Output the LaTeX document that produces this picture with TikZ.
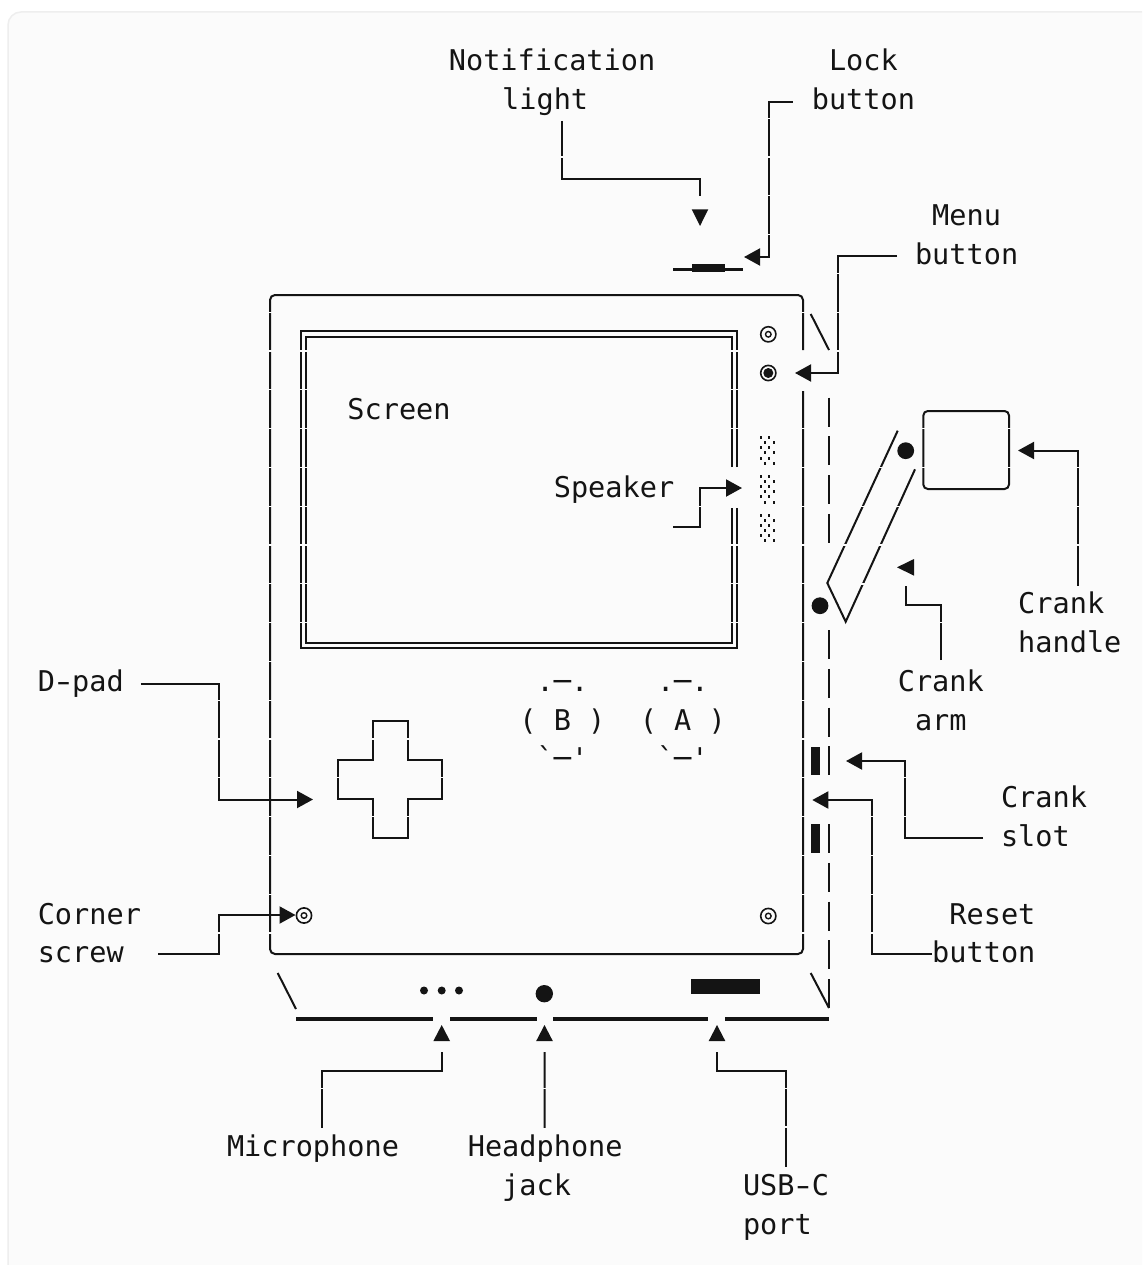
\documentclass[tikz,border=0pt]{standalone}
\usepackage{fontspec}
\usepackage{graphicx}
\newfontfamily\monofnt{DejaVu Sans Mono}
\usetikzlibrary{arrows.meta,calc}
\definecolor{ink}{HTML}{141414}
\definecolor{paper}{HTML}{FBFBFB}
\definecolor{edge}{HTML}{EEEEEE}
\newcommand\lblfont{\monofnt\fontsize{28.57}{38.8}\selectfont}
\newcommand\lab[4]{\node[lbl] (#1) at ({261.4+17.2*#2},{60+38.8*#3-16.66}) {#4};}
\newcommand\wdash{\makebox[17.2pt]{\scalebox{1.45}[1]{-}}}
\tikzset{
  lbl/.style={anchor=north west,inner sep=0pt,outer sep=0pt,align=left,font=\lblfont,text=ink},
  ln/.style={draw=ink,line width=2pt,line cap=butt,line join=miter},
  conn/.style={ln},
  connarrow/.style={ln,-{Triangle[length=16pt,width=17pt]}},
  heavy/.style={draw=ink,line width=4pt},
  dblln/.style={draw=ink,line width=1.8pt},
  wall/.style={draw=ink,line width=2pt,dash pattern=on 29pt off 9.8pt},
  rowgap/.style={draw=paper,line width=1.3pt}
}
\begin{document}
\begin{tikzpicture}[x=1pt,y=-1pt]
\useasboundingbox (0,0) rectangle (1142,1265);
\fill[white] (0,0) rectangle (1142,1265);
\begin{scope}
\clip (0,0) rectangle (1142,1265);
\draw[fill=paper,draw=edge,line width=1.5pt,rounded corners=13pt] (8,12) rectangle (1180,1300);
\end{scope}

% labels
\lab{notifL}{10.9}{0}{\strut Notification\\\strut\ \ \ \kern1.7pt light}
\lab{lockL}{32}{0}{\strut\ Lock\\\strut button}
\lab{menuL}{38}{4}{\strut\ Menu\\\strut button}
\lab{screenL}{5}{9}{\strut Screen}
\lab{speakerL}{17}{11}{\strut Speaker}
\lab{handleL}{44}{14}{\strut Crank\\\strut handle}
\lab{dpadL}{-13}{16}{\strut D\wdash pad}
\lab{armL}{37}{16}{\strut Crank\\\strut\ arm}
\lab{slotL}{43}{19}{\strut Crank\\\strut slot}
\lab{cornerL}{-13}{22}{\strut Corner\\\strut screw}
\lab{resetL}{39}{22}{\strut\ Reset\\\strut button}
\lab{micL}{-2}{28}{\strut Microphone}
\lab{jackL}{12}{28}{\strut Headphone\\\strut\ \ jack}
\lab{usbL}{28}{29}{\strut USB\wdash C\\\strut port}
\lab{btnB}{15}{16}{\strut\ .─.\\\strut( B )\\\strut\ `─'}
\lab{btnA}{22}{16}{\strut\ .─.\\\strut( A )\\\strut\ `─'}

% device body
\draw[ln,rounded corners=5pt] (803,350) -- (803,295) -- (270,295) -- (270,954) -- (803,954) -- (803,391);
% screen double border
\draw[dblln] (737,467) -- (737,331) -- (301,331) -- (301,648) -- (737,648) -- (737,508);
\draw[dblln] (732,467) -- (732,337) -- (306,337) -- (306,643) -- (732,643) -- (732,508);
% d-pad
\draw[ln] (372.5,721) -- (408,721) -- (408,760) -- (442,760) -- (442,799) -- (408,799) -- (408,838) -- (372.5,838) -- (372.5,799) -- (338,799) -- (338,760) -- (372.5,760) -- cycle;
% speaker grilles
\foreach \y in {437.5,476.3,515.1}{
  \foreach \r in {0,2,4}{
    \foreach \x in {761,769.3}{\fill[ink] ({\x-1.1},{\y+5.15*\r-1.5}) rectangle ({\x+1.1},{\y+5.15*\r+1.5});}
    \foreach \x in {765.3,773.7}{\fill[ink] ({\x-1.1},{\y+5.15*(\r+1)-1.5}) rectangle ({\x+1.1},{\y+5.15*(\r+1)+1.5});}
  }
}
% screws and menu button
\foreach \n/\x/\y in {s1/768.3/334.3,s2/304/915.5,s3/768.3/916}{
  \draw[ink,line width=1.6pt] (\x,\y) circle[radius=7.6pt];
  \draw[ink,line width=1.4pt] (\x,\y) circle[radius=2.8pt];
}
\draw[ink,line width=1.6pt] (768.3,373) circle[radius=7.6pt];
\fill[ink] (768.3,373) circle[radius=5pt];
% pivots
\fill[ink] (905.7,450.7) circle[radius=8.4pt];
\fill[ink] (820,605.7) circle[radius=8.4pt];
\fill[ink] (544.3,993.7) circle[radius=8.7pt];
\foreach \x in {424,441.7,459}{\fill[ink] (\x,990.5) circle[radius=4pt];}
% usb port
\fill[ink] (690.7,979) rectangle (760,993.5);
% lock button
\draw[ink,line width=3.5pt] (673.3,269.3) -- (742.7,269.3);
\fill[ink] (691.7,264.3) rectangle (725,272);
% crank handle
\draw[ln,rounded corners=4.5pt] (923.3,411) rectangle (1009,489);
% crank arm
\draw[ln] (897.7,430.7) -- (827.3,583) -- (845.7,621.7) -- (915,469.3);
% crank wall
\draw[wall] (829,397.5) -- (829,543);
\draw[wall] (829,630) -- (829,775);
\draw[wall] (829,824) -- (829,1008);
\fill[ink] (811,746.5) rectangle (820,775);
\fill[ink] (811,824) rectangle (820,853);
% corner slashes
\draw[ln] (810.7,314) -- (829,350);
\draw[ln] (277.7,973) -- (296,1009);
\draw[ln] (810.7,973) -- (829,1008);
% bottom edge
\draw[heavy] (296,1019.3) -- (433,1019.3);
\draw[heavy] (450,1019.3) -- (537,1019.3);
\draw[heavy] (553,1019.3) -- (708,1019.3);
\draw[heavy] (725,1019.3) -- (829,1019.3);

% connector ends
\coordinate (tipNotif) at (700,196);
\coordinate (tipLock) at (744,257);
\coordinate (tipMenu) at (795,373);
\coordinate (tipSpk) at (742,488);
\coordinate (tipDpad) at (313,799.5);
\coordinate (tipCorner) at (295.5,915);
\coordinate (tipHandle) at (1018,450.5);
\coordinate (tipArm) at (905.7,586);
\coordinate (tipSlot) at (846,761);
\coordinate (tipReset) at (812.3,800);
\coordinate (tipMic) at (441.7,1052);
\coordinate (tipJack) at (544.5,1052);
\coordinate (tipUsb) at (717,1052);

% connectors
\draw[conn] ($(notifL.south west)+(113.5,0)$) |- (700,179) -- (tipNotif);
\draw[connarrow] ($(lockL.south west)+(-19,-19)$) -| (769,257) -- (tipLock);
\draw[connarrow] ($(menuL.south west)+(-18,-20)$) -| (837.5,373) -- (tipMenu);
\draw[connarrow] ($(speakerL.south east)+(-1,18)$) -| (700,488) -- (tipSpk);
\draw[connarrow] ([xshift=17pt]dpadL.east) -| (218.5,799.5) -- (tipDpad);
\draw[connarrow] ($(cornerL.south east)+(17,-20.5)$) -| (218.5,915) -- (tipCorner);
\draw[connarrow] ($(handleL.north)+(8.6,-1)$) |- (tipHandle);
\draw[conn] ($(armL.north)+(0,-4)$) |- (905.7,605) -- (tipArm);
\draw[connarrow] ($(slotL.south west)+(-18,-20)$) -| (905,761) -- (tipSlot);
\draw[connarrow] ($(resetL.south west)+(0,-20.5)$) -| (871.5,800) -- (tipReset);
\draw[conn] ($(micL.north)+(8.6,-2)$) |- (441.7,1070.7) -- (tipMic);
\draw[conn] ($(jackL.north)+(-0.7,-2)$) -- (tipJack);
\draw[conn] ($(usbL.north)+(0,-2)$) |- (717,1070.7) -- (tipUsb);

% detached arrow heads
\fill[ink] (691.7,209.3) -- (708.3,209.3) -- (700,226) -- cycle;
\fill[ink] (914,559) -- (914,575.7) -- (897,567.3) -- cycle;
\foreach \x in {441.7,544.5,717}{\fill[ink] (\x,1025) -- ({\x+8.3},1041) -- ({\x-8.3},1041) -- cycle;}

% row seams of the character grid
\foreach \x/\L in {270/{6,...,22},803/{6,9,10,...,22},301/{7,...,14},306/{7,...,14},732/{7,8,9,12,13,14},737/{7,8,9,12,13,14},372.5/{17,19},408/{17,19},338/{18},442/{18},923.3/{9,10},1009/{9,10},562/{2},769/{1,2,3,4},837.5/{5,6,7},700/{11},218.5/{16,17,18,22},1078.4/{10,11,12},940.8/{14},905/{18,19},871.5/{19,20,21,22},321.4/{26},544.5/{26},786/{26,27}}{
  \foreach \n in \L {\draw[rowgap] ({\x-3},{79.4+38.8*\n}) -- ({\x+3},{79.4+38.8*\n});}
}
\foreach \x/\y in {880.7/467.4,862.8/506.2,844.9/545,898.2/506.2,880.6/545,862.9/584}{
  \draw[rowgap] ({\x-4},\y) -- ({\x+4},\y);
}
\end{tikzpicture}
\end{document}
